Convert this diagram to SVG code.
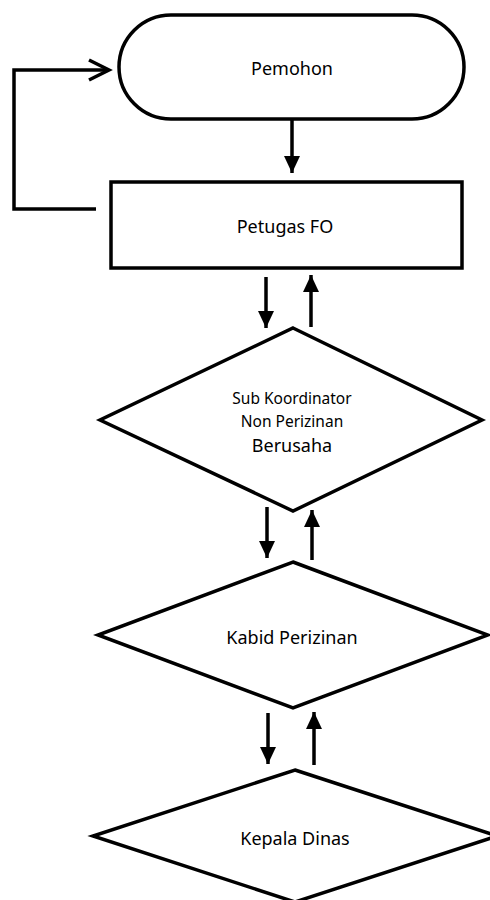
<svg xmlns="http://www.w3.org/2000/svg" width="490" height="900" viewBox="0 0 490 900">
<style>
.shape{fill:#fff;stroke:#000;stroke-width:3.5}
.ln{fill:none;stroke:#000;stroke-width:3.5}
.t{font-family:"Noto Sans","Open Sans",sans-serif;font-size:18px;fill:#000;text-anchor:middle;dominant-baseline:central}
.s{font-size:15.5px}
</style>
<defs>
<marker id="ah" markerUnits="userSpaceOnUse" markerWidth="18" markerHeight="18" viewBox="0 0 18 18" refX="17" refY="9" orient="auto">
<path d="M0,1 L17,9 L0,17 Z" fill="#000"/>
</marker>
</defs>
<g id="pemohon"><rect class="shape" x="119" y="15" width="345" height="104" rx="52" ry="52"/><text class="t" x="292" y="68">Pemohon</text></g>
<g id="petugas-fo"><rect class="shape" x="111" y="182" width="351" height="86"/><text class="t" x="285" y="226">Petugas FO</text></g>
<g id="sub-koordinator"><polygon class="shape" points="293,328 482,420 293,511 100,420"/><text class="t s" x="292" y="398">Sub Koordinator</text><text class="t s" x="292" y="421">Non Perizinan</text><text class="t" x="292" y="445">Berusaha</text></g>
<g id="kabid"><polygon class="shape" points="293,562 488,635 293,708 98,635"/><text class="t" x="292" y="637">Kabid Perizinan</text></g>
<g id="kepala-dinas"><polygon class="shape" points="295,770 497,836 295,902 93,836"/><text class="t" x="295" y="838">Kepala Dinas</text></g>
<g id="connectors">
<line class="ln" x1="292" y1="120" x2="292" y2="173" marker-end="url(#ah)"/>
<polyline class="ln" points="96,209 14,209 14,70 108,70"/>
<polyline class="ln" points="89,60 109,70 89,80"/>
<line class="ln" x1="266" y1="277" x2="266" y2="328" marker-end="url(#ah)"/>
<line class="ln" x1="311" y1="327" x2="311" y2="275" marker-end="url(#ah)"/>
<line class="ln" x1="267" y1="507" x2="267" y2="558" marker-end="url(#ah)"/>
<line class="ln" x1="312" y1="560" x2="312" y2="510" marker-end="url(#ah)"/>
<line class="ln" x1="268" y1="713" x2="268" y2="764" marker-end="url(#ah)"/>
<line class="ln" x1="314" y1="765" x2="314" y2="712" marker-end="url(#ah)"/>
</g>
</svg>
